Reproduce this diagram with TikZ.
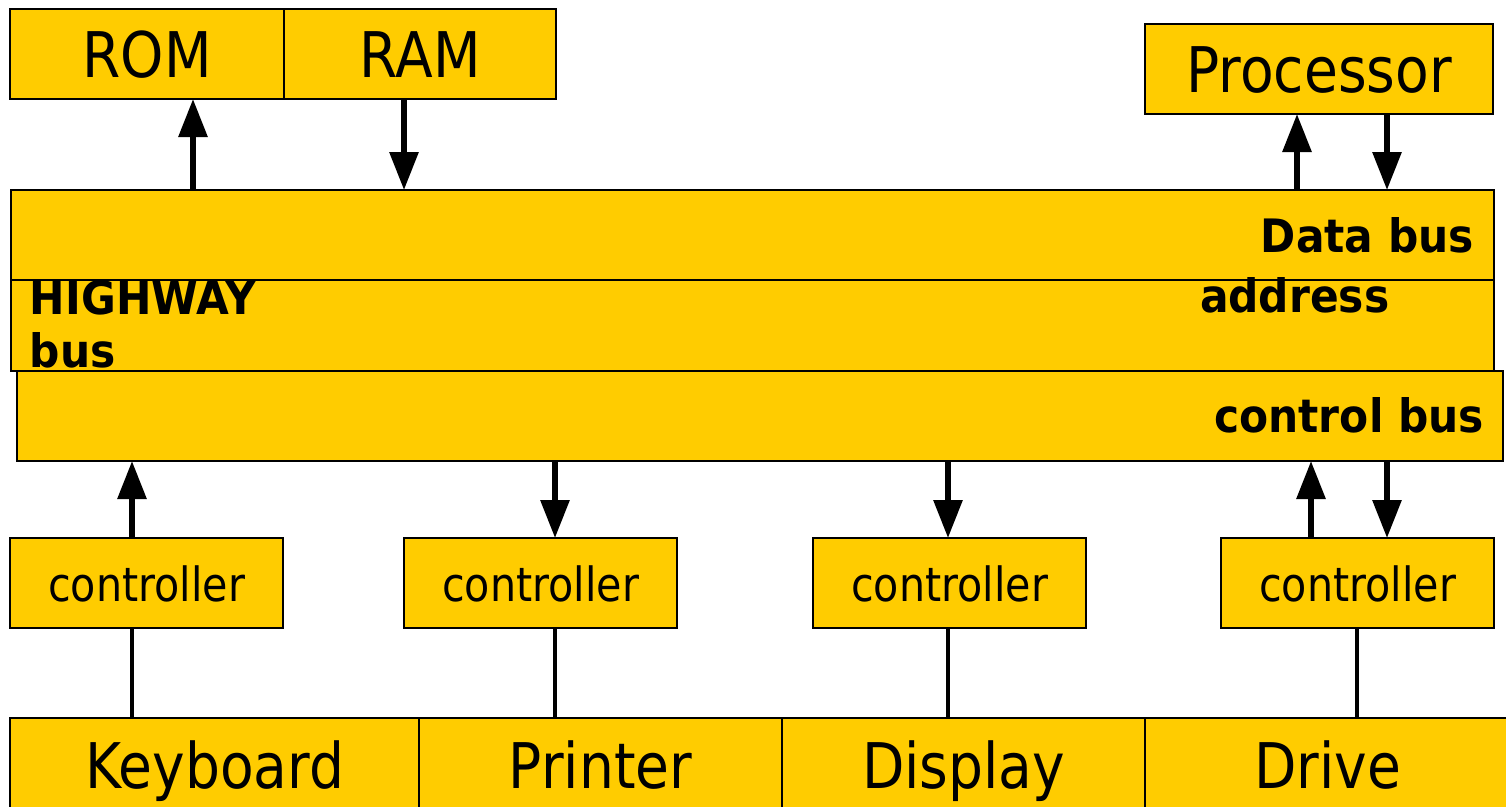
\documentclass[tikz,border=0pt]{standalone}
\usepackage{fontspec}
\setmainfont{DejaVu Sans}[FakeStretch=0.875]
\newfontfamily\busfont{DejaVu Sans}[FakeStretch=0.92]
\usetikzlibrary{arrows.meta}
\definecolor{busyellow}{RGB}{255,204,0}
\tikzset{
  box/.style={draw=black, line width=0.7pt, fill=busyellow, inner sep=0pt, outer sep=0pt, anchor=north west},
  bigbox/.style={box, minimum height=0.9cm, font=\fontsize{17.9pt}{20pt}\selectfont, text height=0.46cm, text depth=0pt},
  devbox/.style={box, minimum height=0.9cm, font=\fontsize{17.9pt}{20pt}\selectfont, text height=0.5cm, text depth=0pt},
  ctrlbox/.style={box, font=\fontsize{13.4pt}{16pt}\selectfont, minimum width=2.73cm, minimum height=0.9cm, text height=0.36cm, text depth=0pt},
  busbox/.style={box, minimum height=0.9cm},
  buslabel/.style={inner sep=0pt, outer sep=0pt, font=\busfont\bfseries\fontsize{13.1pt}{15pt}\selectfont},
  flow/.style={line width=1.6pt, -{Triangle[length=10.8pt,width=8pt]}},
  wire/.style={line width=1.1pt},
}
\begin{document}
\begin{tikzpicture}[x=0.01cm, y=-0.01cm]
\clip (0,0) rectangle (1506,807);
\fill[white] (0,0) rectangle (1506,807);

% memory and processor
\node[bigbox, minimum width=2.74cm] (rom) at (10,9) {ROM};
\node[bigbox, minimum width=2.72cm] (ram) at (284,9) {RAM};
\node[bigbox, minimum width=3.48cm] (cpu) at (1145,24) {Processor};

% the three buses
\node[busbox, minimum width=14.82cm] (data) at (11,190) {};
\node[busbox, minimum width=14.82cm, minimum height=0.91cm] (addr) at (11,280) {};
\node[busbox, minimum width=14.85cm] (ctrl) at (17,371) {};

% controllers
\node[ctrlbox] (c1) at (10,538) {controller};
\node[ctrlbox] (c2) at (404,538) {controller};
\node[ctrlbox] (c3) at (813,538) {controller};
\node[ctrlbox] (c4) at (1221,538) {controller};

% devices
\node[devbox, minimum width=4.09cm] (kbd) at (10,718) {Keyboard};
\node[devbox, minimum width=3.63cm] (prn) at (419,718) {Printer};
\node[devbox, minimum width=3.63cm] (dsp) at (782,718) {Display};
\node[devbox, minimum width=3.65cm] (drv) at (1145,718) {Drive};

% bus labels
\node[buslabel, anchor=base east] (datalbl) at (1474,253) {Data bus};
\node[buslabel, anchor=base west] (addrlbl) at (1200,313) {address};
\node[buslabel, anchor=base west] (hwlbl) at (30,315) {HIGHWAY};
\node[buslabel, anchor=base west] (buslbl) at (30,368) {bus};
\node[buslabel, anchor=base east] (ctrllbl) at (1484,433) {control bus};

% column positions of the connectors
\coordinate (xrom) at (193,0);
\coordinate (xram) at (404,0);
\coordinate (xcpuA) at (1297,0);
\coordinate (xcpuB) at (1387,0);
\coordinate (xk) at (132,0);
\coordinate (xp) at (555,0);
\coordinate (xd) at (948,0);
\coordinate (xvA) at (1311,0);
\coordinate (xvB) at (1387,0);
\coordinate (xv) at (1357,0);

% memory / processor to data bus
\draw[flow] (data.north -| xrom) -- (rom.south -| xrom);
\draw[flow] (ram.south -| xram) -- (data.north -| xram);
\draw[flow] (data.north -| xcpuA) -- (cpu.south -| xcpuA);
\draw[flow] (cpu.south -| xcpuB) -- (data.north -| xcpuB);

% control bus to controllers
\draw[flow] (c1.north -| xk) -- (ctrl.south -| xk);
\draw[flow] (ctrl.south -| xp) -- (c2.north -| xp);
\draw[flow] (ctrl.south -| xd) -- (c3.north -| xd);
\draw[flow] (c4.north -| xvA) -- (ctrl.south -| xvA);
\draw[flow] (ctrl.south -| xvB) -- (c4.north -| xvB);

% controllers to devices
\draw[wire] (c1.south -| xk) -- (kbd.north -| xk);
\draw[wire] (c2.south -| xp) -- (prn.north -| xp);
\draw[wire] (c3.south -| xd) -- (dsp.north -| xd);
\draw[wire] (c4.south -| xv) -- (drv.north -| xv);
\end{tikzpicture}
\end{document}
